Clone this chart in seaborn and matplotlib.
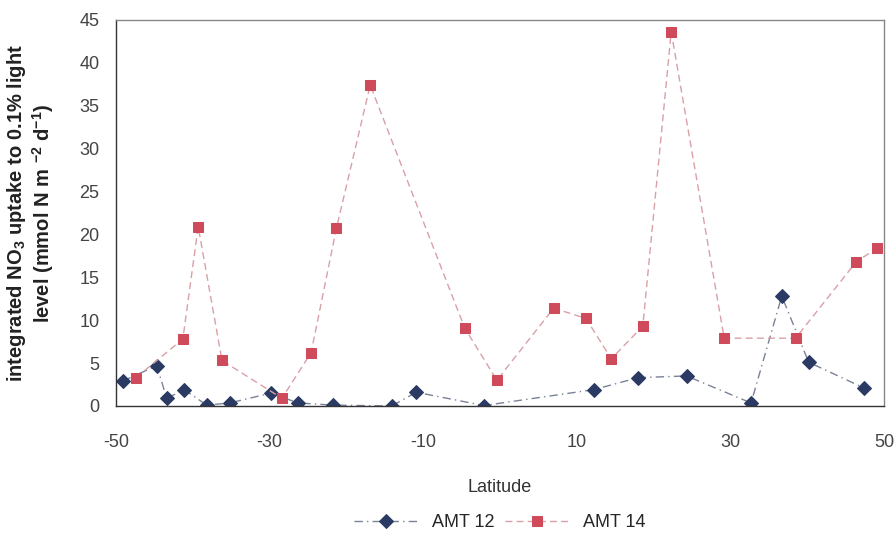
import pandas as pd
import matplotlib
matplotlib.use("Agg")
import matplotlib.pyplot as plt
import seaborn as sns

# AMT 12 (blue diamonds)
lat_amt12 = [-49.1, -44.7, -43.4, -41.1, -38.2, -35.2, -29.8, -26.3, -21.7, -14.1,
             -10.9, -2.1, 12.2, 18.0, 24.3, 32.7, 36.7, 40.2, 47.4]
no3_amt12 = [2.9, 4.7, 0.9, 1.9, 0.1, 0.35, 1.5, 0.35, 0.1, 0.0,
             1.6, 0.05, 1.9, 3.3, 3.5, 0.35, 12.8, 5.1, 2.1]

# AMT 14 (red squares)
lat_amt14 = [-47.4, -41.3, -39.3, -36.2, -28.4, -24.6, -21.3, -16.9, -4.6, -0.4,
             7.0, 11.2, 14.5, 18.6, 22.3, 29.2, 38.5, 46.4, 49.1]
no3_amt14 = [3.3, 7.8, 20.9, 5.3, 0.9, 6.2, 20.7, 37.4, 9.1, 3.0,
             11.4, 10.2, 5.5, 9.3, 43.6, 7.9, 7.9, 16.8, 18.4]

x_ticks = [-50, -30, -10, 10, 30, 50]
y_ticks = [0, 5, 10, 15, 20, 25, 30, 35, 40, 45]

df12 = pd.DataFrame({"Latitude": lat_amt12, "uptake": no3_amt12})
df14 = pd.DataFrame({"Latitude": lat_amt14, "uptake": no3_amt14})

sns.set_style("white")
plt.rcParams['font.family'] = ['Liberation Sans', 'DejaVu Sans']
plt.rcParams['axes.unicode_minus'] = False
plt.rcParams['mathtext.fontset'] = 'custom'
plt.rcParams['mathtext.rm'] = 'Liberation Sans:bold'
plt.rcParams['mathtext.it'] = 'Liberation Sans:bold'
plt.rcParams['mathtext.bf'] = 'Liberation Sans:bold'

fig = plt.figure(figsize=(8.96, 5.37), dpi=100)
ax = fig.add_axes([0.1295, 0.244, 0.857, 0.719])

sns.lineplot(data=df12, x="Latitude", y="uptake", ax=ax, sort=False,
             color="#7a8296", linestyle=(0, (6, 3, 1, 3)), linewidth=1,
             marker="D", markersize=7, markerfacecolor="#2b3a63",
             markeredgecolor="#2b3a63", label="AMT 12")
sns.lineplot(data=df14, x="Latitude", y="uptake", ax=ax, sort=False,
             color="#d9a0a6", linestyle=(0, (5, 3)), linewidth=1,
             marker="s", markersize=7, markerfacecolor="#cf4b5b",
             markeredgecolor="#cf4b5b", label="AMT 14")

ax.set_xlim(-50, 50)
ax.set_ylim(0, 45)
ax.set_xticks(x_ticks)
ax.set_yticks(y_ticks)
ax.tick_params(axis="both", labelsize=13, colors="#444444", length=4, direction="out")
ax.tick_params(axis="x", pad=16)
ax.tick_params(axis="y", pad=8)
for s in ax.spines.values():
    s.set_color("#888888")
    s.set_linewidth(1)
ax.spines["left"].set_color("#333333")
ax.spines["bottom"].set_color("#333333")

ax.set_xlabel("Latitude", fontsize=13, color="#333333")
ax.xaxis.set_label_coords(0.5, -0.19)
ax.set_ylabel("integrated NO$_3$ uptake to 0.1% light\nlevel (mmol N m $^{-2}$ d$^{-1}$)",
              fontsize=14.5, fontweight="bold", color="#222222", linespacing=1.1)
ax.yaxis.set_label_coords(-0.078, 0.5)

ax.legend(loc="center", bbox_to_anchor=(0.5, -0.303), ncol=2, frameon=False,
          fontsize=13, handlelength=3.5, columnspacing=0.6)

fig.savefig("out.png", dpi=100)
